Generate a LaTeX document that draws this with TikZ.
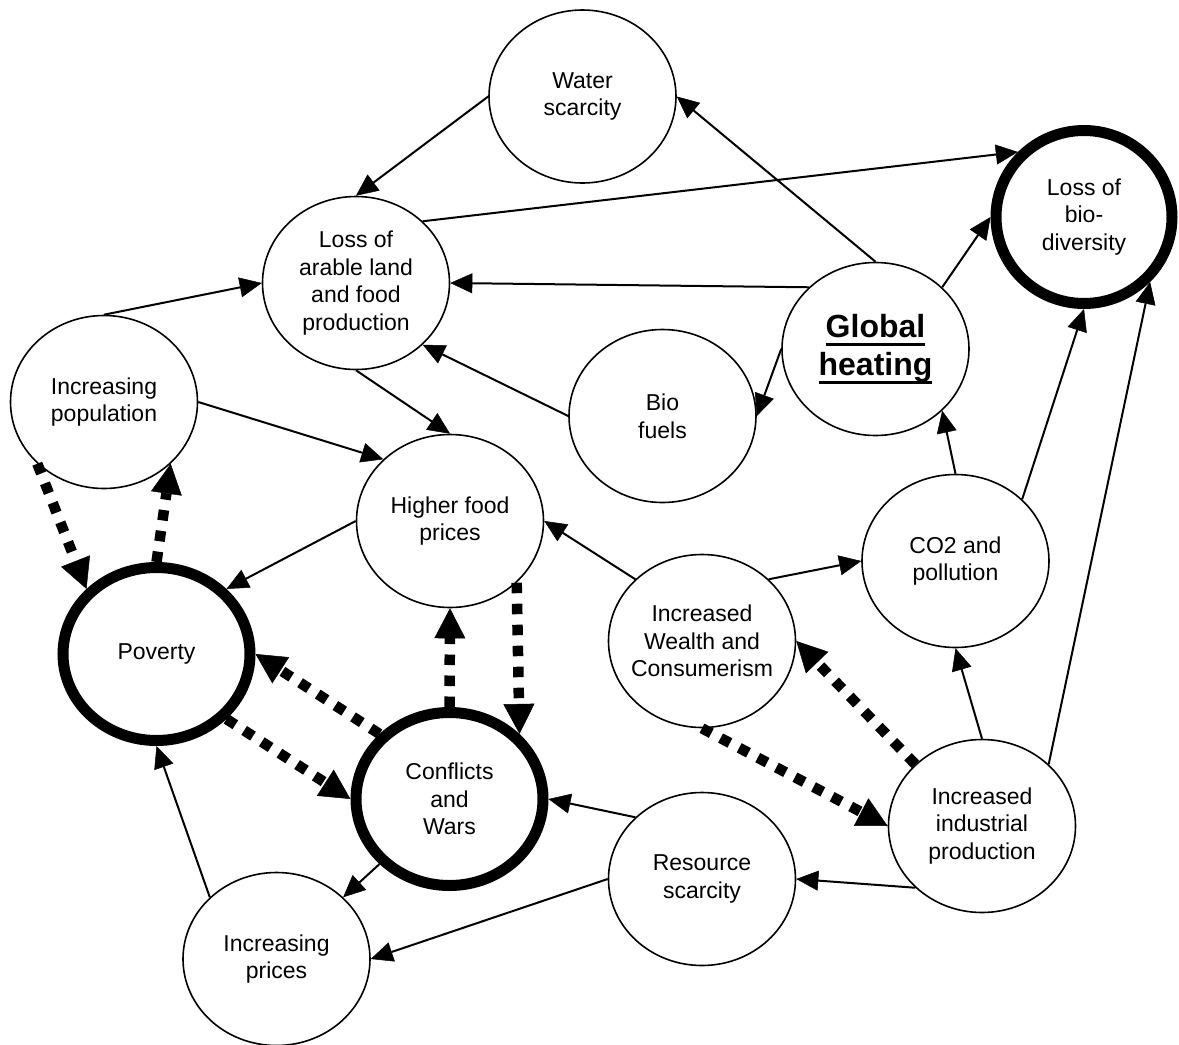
\documentclass[tikz,border=0pt]{standalone}
\usepackage{fontspec}
\setmainfont{Liberation Sans}
\usetikzlibrary{arrows.meta,shapes.geometric}

\newsavebox{\ulbox}
\newcommand{\ulword}[1]{\sbox{\ulbox}{#1}\rlap{\rule[-8pt]{\wd\ulbox}{3pt}}\usebox{\ulbox}}

\begin{document}
\begin{tikzpicture}[x=1pt,y=-1pt,
    bubble/.style={ellipse,draw,line width=1.6pt,minimum width=187pt,minimum height=173pt,
      inner xsep=-30pt,inner ysep=0pt,align=center,font=\fontsize{23}{27.7}\selectfont},
    keybubble/.style={bubble,line width=11pt},
    link/.style={line width=2pt,-{Triangle[length=22pt,width=20pt,line width=0.5pt]}},
    feedback/.style={line width=10.5pt,dash pattern=on 10.5pt off 10.5pt,
      -{Triangle[length=30pt,width=31pt,line width=0.5pt]}}]
    \useasboundingbox (0,0) rectangle (1179,1045);

    % Nodes
    \node[bubble] (water) at (582.5,96.5) {Water\\scarcity};
    \node[bubble] (arable) at (356,283) {Loss of\\arable land\\and food\\production};
    \node[keybubble,minimum width=176pt] (biodiv) at (1084,217) {Loss of\\bio-\\diversity};
    \node[bubble,font=\fontsize{32}{38}\selectfont\bfseries] (heating) at (875.5,349)
        {\ulword{Global}\\\ulword{heating}};
    \node[bubble] (biofuels) at (662.5,416) {Bio\\fuels};
    \node[bubble] (population) at (104,402) {Increasing\\population};
    \node[bubble] (foodprices) at (450,521) {Higher food\\prices};
    \node[bubble] (co2) at (955.5,561) {CO2 and\\pollution};
    \node[keybubble] (poverty) at (156.5,654) {Poverty};
    \node[bubble] (wealth) at (702,641) {Increased\\Wealth and\\Consumerism};
    \node[keybubble] (conflicts) at (449.5,799) {Conflicts\\and\\Wars};
    \node[bubble] (industry) at (982,826) {Increased\\industrial\\production};
    \node[bubble] (resources) at (702,879) {Resource\\scarcity};
    \node[bubble] (prices) at (276.5,959) {Increasing\\prices};

    % Causes
    \draw[link] (water.west) -- (arable.north);
    \draw[link] (arable.north east) -- (biodiv.north west);
    \draw[link] (heating.north) -- (water.east);
    \draw[link] (heating.north west) -- (arable.east);
    \draw[link] (heating.west) -- (biofuels.east);
    \draw[link] (heating.north east) -- (biodiv.west);
    \draw[link] (biofuels.west) -- (arable.south east);
    \draw[link] (population.north) -- (arable.west);
    \draw[link] (population.east) -- (foodprices.north west);
    \draw[link] (arable.south) -- (foodprices.north);
    \draw[link] (foodprices.west) -- (poverty.north east);
    \draw[link] (prices.north west) -- (poverty.south);
    \draw[link] (conflicts.south west) -- (prices.north east);
    \draw[link] (resources.west) -- (prices.east);
    \draw[link] (resources.north west) -- (conflicts.east);
    \draw[link] (industry.south west) -- (resources.east);
    \draw[link] (wealth.north west) -- (foodprices.east);
    \draw[link] (wealth.north east) -- (co2.west);
    \draw[link] (co2.north) -- (heating.south east);
    \draw[link] (co2.north east) -- (biodiv.south);
    \draw[link] (industry.north east) -- (biodiv.south east);
    \draw[link] (industry.north) -- (co2.south);

    % Feedback loops
    \draw[feedback] (population.south west) -- (poverty.north west);
    \draw[feedback] (poverty.north) -- (population.south east);
    \draw[feedback] (conflicts.north) -- (foodprices.south);
    \draw[feedback] (foodprices.south east) -- (conflicts.north east);
    \draw[feedback] (conflicts.north west) -- (poverty.east);
    \draw[feedback] (poverty.south east) -- (conflicts.west);
    \draw[feedback] (industry.north west) -- (wealth.east);
    \draw[feedback] (wealth.south) -- (industry.west);
\end{tikzpicture}
\end{document}
